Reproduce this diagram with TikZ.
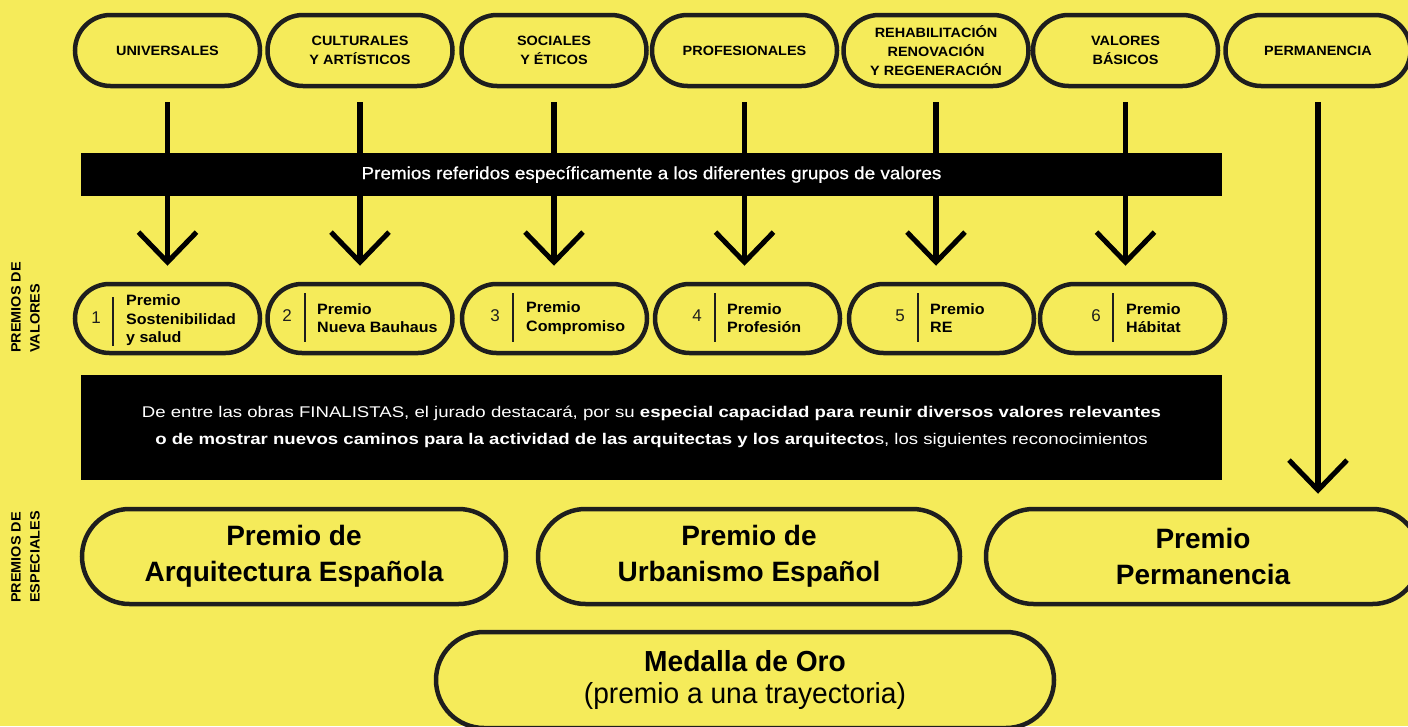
\documentclass[tikz,border=0pt]{standalone}
\usepackage{fontspec}
\setmainfont{Liberation Sans}
\newfontfamily\widefont{Liberation Sans}[FakeStretch=1.07]
\newfontfamily\condfont{Liberation Sans}[FakeStretch=0.97]
\newfontfamily\medfont{Liberation Sans}[FakeStretch=1.08,FakeBold=0.8]
\newfontfamily\boxfont{Liberation Sans}[FakeStretch=1.2]
\usetikzlibrary{shapes.misc,arrows.meta}
\definecolor{bgyellow}{RGB}{245,235,90}
\definecolor{ink}{RGB}{30,30,30}
\tikzset{
  topoval/.style={rounded rectangle, draw=ink, line width=4.5pt, minimum width=185pt,
    minimum height=71pt, inner sep=0pt, align=center,
    font=\widefont\bfseries\fontsize{13.5}{19}\selectfont},
  prizeoval/.style={rounded rectangle, draw=ink, line width=4.5pt, minimum width=185pt,
    minimum height=69pt, inner sep=0pt},
  bigoval/.style={rounded rectangle, draw=ink, line width=4.5pt, minimum height=95pt,
    inner sep=0pt, align=center, font=\bfseries\fontsize{28}{36}\selectfont},
  numtext/.style={inner sep=0pt, text=ink, font=\fontsize{17}{20}\selectfont},
  ptext/.style={inner sep=0pt, anchor=west, align=left, text=black,
    font=\widefont\bfseries\fontsize{15}{18.5}\selectfont},
  sepline/.style={draw=ink, line width=2.5pt},
  blackbar/.style={fill=black, inner sep=0pt, text=white, align=center, minimum width=1141pt},
  sidelabel/.style={rotate=90, anchor=north west, inner sep=0pt, align=left,
    font=\widefont\bfseries\fontsize{13.5}{19}\selectfont},
  downarr/.style={draw=black, line width=5.5pt,
    -{Straight Barb[length=30pt, width=58pt, line width=5pt]}},
}
\begin{document}
\begin{tikzpicture}[x=1pt,y=-1pt]
\useasboundingbox (0,0) rectangle (1408,726);
\clip (0,0) rectangle (1408,726);
\fill[bgyellow] (0,0) rectangle (1408,726);

% top value groups
\node[topoval] (t1) at (167.5,50.5) {UNIVERSALES};
\node[topoval] (t2) at (360,50.5) {CULTURALES\\Y ARTÍSTICOS};
\node[topoval] (t3) at (554,50.5) {SOCIALES\\Y ÉTICOS};
\node[topoval] (t4) at (744.5,50.5) {PROFESIONALES};
\node[topoval] (t5) at (936,50.5) {REHABILITACIÓN\\RENOVACIÓN\\Y REGENERACIÓN};
\node[topoval] (t6) at (1125.5,50.5) {VALORES\\BÁSICOS};
\node[topoval] (t7) at (1318,50.5) {PERMANENCIA};

% prize ovals
\node[prizeoval] (p1) at (167.5,318.5) {};
\node[prizeoval] (p2) at (360,318.5) {};
\node[prizeoval] (p3) at (554.5,318.5) {};
\node[prizeoval] (p4) at (747.5,318.5) {};
\node[prizeoval] (p5) at (941.5,318.5) {};
\node[prizeoval] (p6) at (1132.5,318.5) {};

\node[numtext] (n1) at (96,318) {1};
\node[numtext] (n2) at (287,316) {2};
\node[numtext] (n3) at (495,316) {3};
\node[numtext] (n4) at (697,316) {4};
\node[numtext] (n5) at (900,316) {5};
\node[numtext] (n6) at (1096,316) {6};

\draw[sepline] (113,297) -- (113,346);
\draw[sepline] (305,293) -- (305,342);
\draw[sepline] (513,293) -- (513,342);
\draw[sepline] (715,293) -- (715,342);
\draw[sepline] (918,293) -- (918,342);
\draw[sepline] (1113,293) -- (1113,342);

\node[ptext] (l1) at (126,320.5) {Premio\\Sostenibilidad\\y salud};
\node[ptext] (l2) at (317,318) {Premio\\Nueva Bauhaus};
\node[ptext] (l3) at (526,318) {Premio\\Compromiso};
\node[ptext] (l4) at (727,318) {Premio\\Profesión};
\node[ptext] (l5) at (930,318) {Premio\\RE};
\node[ptext] (l6) at (1126,318) {Premio\\Hábitat};

% special prizes
\node[bigoval, minimum width=424pt] (b1) at (294,556.5) {Premio de\\Arquitectura Española};
\node[bigoval, minimum width=422pt] (b2) at (749,556.5) {Premio de\\Urbanismo Español};
\node[bigoval, minimum width=434pt] (b3) at (1203,556.5) {Premio\\Permanencia};
\node[bigoval, minimum width=618pt, minimum height=96pt,
  font=\condfont\fontsize{29}{32}\selectfont] (med) at (745,680)
  {\textbf{Medalla de Oro}\\(premio a una trayectoria)};

% arrows
\foreach \i in {1,...,6}{
  \draw[downarr, shorten <=14pt, shorten >=16pt] (t\i.south) -- (t\i.south |- p\i.north);
}
\draw[downarr, shorten <=14pt, shorten >=13pt] (t7.south) -- (t7.south |- b3.north);

% black bars
\node[blackbar, minimum height=43pt, font=\medfont\fontsize{17.5}{20}\selectfont] (bar1) at (651.5,174.5)
  {Premios referidos específicamente a los diferentes grupos de valores};
\node[blackbar, minimum height=105pt, font=\boxfont\fontsize{15.5}{27}\selectfont] (bar2) at (651.5,427)
  {De entre las obras FINALISTAS, el jurado destacará, por su \textbf{especial capacidad para reunir diversos valores relevantes}\\
   \textbf{o de mostrar nuevos caminos para la actividad de las arquitectas y los arquitecto}s, los siguientes reconocimientos};

% side labels
\node[sidelabel] (s1) at (11,353) {PREMIOS DE\\VALORES};
\node[sidelabel] (s2) at (11,603) {PREMIOS DE\\ESPECIALES};
\end{tikzpicture}
\end{document}
